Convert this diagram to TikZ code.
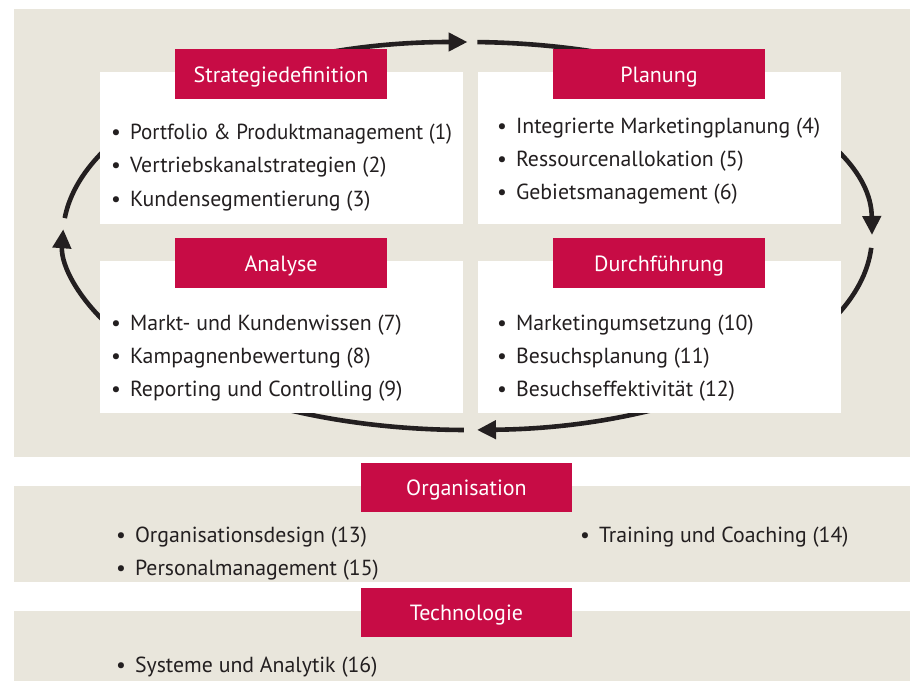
\documentclass[tikz,border=0pt]{standalone}
\usepackage{graphicx}
\usepackage{fontspec}
\setmainfont{PT Sans}
\usetikzlibrary{arrows.meta}
\definecolor{panel}{HTML}{E9E6DC}
\definecolor{crimson}{HTML}{C70C45}
\definecolor{ink}{HTML}{231F20}
\newcommand{\bul}[1]{\textbullet\hspace{9pt}#1}

\begin{document}
\begin{tikzpicture}[x=1pt,y=1pt,
  panelbg/.style={fill=panel, draw=none, anchor=north west, inner sep=0pt, minimum width=896pt},
  card/.style={fill=white, draw=none, minimum width=363pt, minimum height=152pt, inner sep=0pt, anchor=north west},
  header/.style={fill=crimson, text=white, minimum width=212pt, minimum height=50pt, inner sep=0pt,
    text height=22pt, text depth=6pt, font=\fontsize{22}{26}\selectfont},
  item/.style={anchor=base west, inner sep=0pt, text=ink, font=\fontsize{21.8}{26}\selectfont},
  cyc/.style={line width=4.6pt, draw=ink, -{Triangle[length=19pt,width=18pt]}}
]
% page and bounding box
\fill[white] (0,0) rectangle (910,-681);
\useasboundingbox (0,0) rectangle (910,-681);

% beige panels
\node[panelbg, minimum height=448pt] (cyclepanel) at (14,-9) {};
\node[panelbg, minimum height=96pt] (orgpanel) at (14,-486) {};
\node[panelbg, minimum height=70pt] (techpanel) at (14,-611) {};

% cycle of four phases: elliptical arrows behind the cards
\coordinate (C) at (467.5,-236);
\draw[cyc] (C) ++(174.7:404.5pt and 194pt) arc[start angle=174.7, end angle=90, x radius=404.5pt, y radius=194pt];
\draw[cyc] (C) ++(88.6:404.5pt and 194pt) arc[start angle=88.6, end angle=0.3, x radius=404.5pt, y radius=194pt];
\draw[cyc] (C) ++(-3.5:404.5pt and 194pt) arc[start angle=-3.5, end angle=-88.65, x radius=404.5pt, y radius=194pt];
\draw[cyc] (C) ++(-90.5:404.5pt and 194pt) arc[start angle=-90.5, end angle=-182, x radius=404.5pt, y radius=194pt];

% white cards
\node[card] (strat) at (100,-72) {};
\node[card] (plan) at (478,-72) {};
\node[card] (anal) at (100,-261) {};
\node[card] (exec) at (478,-261) {};

% headers
\node[header] (hstrat) at (281,-74) {Strategiedefinition};
\node[header] (hplan) at (659,-74) {Planung};
\node[header] (hanal) at (281,-263) {Analyse};
\node[header] (hexec) at (659,-263) {Durchführung};
\node[header, minimum width=211pt, minimum height=49pt] (horg) at (466.5,-487.5) {Organisation};
\node[header, minimum width=211pt, minimum height=49pt] (htech) at (466.5,-612.5) {Technologie};

% items
\node[item] (s1) at (111,-139) {\bul{\scalebox{0.964}[1]{Portfolio \& Produktmanagement (1)}}};
\node[item] (s2) at (111,-172.5) {\bul{Vertriebskanalstrategien (2)}};
\node[item] (s3) at (111,-206) {\bul{Kundensegmentierung (3)}};

\node[item] (p1) at (497,-133) {\bul{Integrierte Marketingplanung (4)}};
\node[item] (p2) at (497,-166) {\bul{Ressourcenallokation (5)}};
\node[item] (p3) at (497,-199) {\bul{Gebietsmanagement (6)}};

\node[item] (a1) at (111,-330) {\bul{Markt- und Kundenwissen (7)}};
\node[item] (a2) at (111,-363) {\bul{Kampagnenbewertung (8)}};
\node[item] (a3) at (111,-396) {\bul{Reporting und Controlling (9)}};

\node[item] (e1) at (497,-330) {\bul{Marketingumsetzung (10)}};
\node[item] (e2) at (497,-363) {\bul{Besuchsplanung (11)}};
\node[item] (e3) at (497,-396) {\bul{Besuchseffektivität (12)}};

\node[item] (o1) at (116,-542) {\bul{Organisationsdesign (13)}};
\node[item] (o2) at (580,-542) {\bul{Training und Coaching (14)}};
\node[item] (o3) at (116,-575) {\bul{Personalmanagement (15)}};

\node[item] (t1) at (116,-672) {\bul{Systeme und Analytik (16)}};
\end{tikzpicture}
\end{document}
